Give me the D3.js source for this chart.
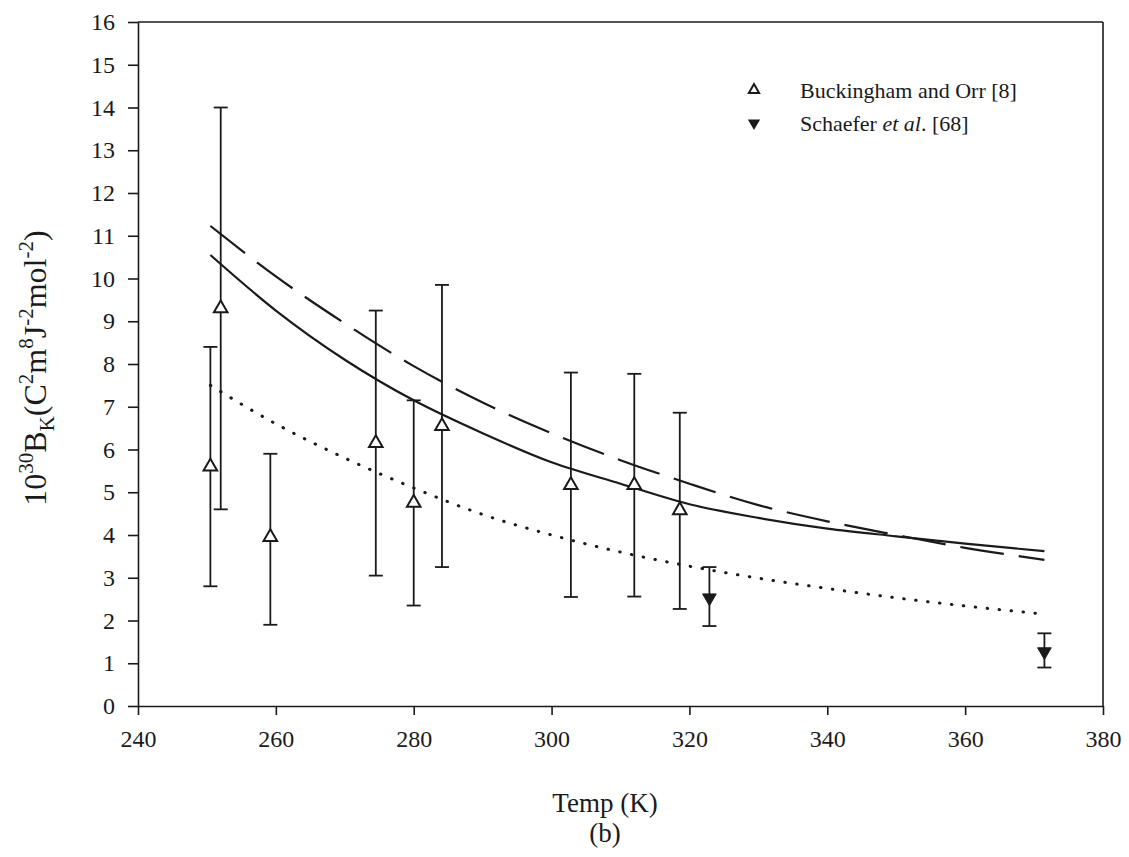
<!DOCTYPE html>
<html><head><meta charset="utf-8">
<script src="https://cdn.jsdelivr.net/npm/d3@7"></script>
<style>body{margin:0;background:#fff} svg text{font-family:"Liberation Serif","Times New Roman",serif}</style>
</head><body>
<svg id="c" width="1129" height="857"></svg>
<script>
// ---- data ----
const xTicks = [240, 260, 280, 300, 320, 340, 360, 380];
const yTicks = [0,1,2,3,4,5,6,7,8,9,10,11,12,13,14,15,16];

// Buckingham and Orr [8] (open triangles)
const boTemp  = [250.5, 252.0, 259.2, 274.5, 280.0, 284.1, 302.8, 312.0, 318.6];
const boValue = [5.6,   9.3,   3.95,  6.15,  4.75,  6.55,  5.17,  5.17,  4.58];
const boLow   = [2.8,   4.6,   1.9,   3.05,  2.35,  3.25,  2.55,  2.56,  2.27];
const boHigh  = [8.4,   14.0,  5.9,   9.25,  7.15,  9.85,  7.8,   7.77,  6.86];

// Schaefer et al. [68] (filled down triangles)
const scTemp  = [322.9, 371.5];
const scValue = [2.53,  1.27];
const scLow   = [1.87,  0.9];
const scHigh  = [3.25,  1.7];

// model curves
const curveTemp   = [250.5, 260, 270, 280, 290, 300, 310, 320, 330, 340, 350, 360, 371.5];
const solidValue  = [10.55, 9.25, 8.1, 7.15, 6.38, 5.7, 5.2, 4.72, 4.4, 4.15, 3.97, 3.8, 3.62];
const dashedValue = [11.23, 10.05, 8.95, 7.95, 7.1, 6.38, 5.75, 5.2, 4.7, 4.32, 4.0, 3.7, 3.42];
const dottedValue = [7.5, 6.6, 5.8, 5.1, 4.48, 4.0, 3.6, 3.27, 2.99, 2.75, 2.53, 2.34, 2.15];

// ---- drawing ----
const svg = d3.select('#c');
svg.append('rect').attr('width',1129).attr('height',857).attr('fill','#fff');
const L = 138, R = 1103, T = 22, B = 706;
const x = d3.scaleLinear().domain([240,380]).range([L,R]);
const y = d3.scaleLinear().domain([0,16]).range([B,T]);
const ink = '#1a1a1a';
const font = '"Liberation Serif","Times New Roman",serif';

const xAxis = svg.append('g').attr('transform',`translate(0,${B})`)
  .call(d3.axisBottom(x).tickValues(xTicks).tickSize(9).tickPadding(15).tickSizeOuter(0).tickFormat(d3.format('d')));
const yAxis = svg.append('g').attr('transform',`translate(${L},0)`)
  .call(d3.axisLeft(y).tickValues(yTicks).tickSize(10).tickPadding(13).tickSizeOuter(0).tickFormat(d3.format('d')));
[xAxis,yAxis].forEach(g=>{
  g.attr('font-family',font).attr('font-size',24);
  g.select('.domain').attr('stroke',ink).attr('stroke-width',1.6);
  g.selectAll('.tick line').attr('stroke',ink).attr('stroke-width',1.6);
  g.selectAll('.tick text').attr('fill',ink).style('font-family',font).style('font-size','24px');
});
// frame top & right
svg.append('line').attr('x1',L).attr('x2',R).attr('y1',T).attr('y2',T).attr('stroke',ink).attr('stroke-width',1.6);
svg.append('line').attr('x1',R).attr('x2',R).attr('y1',T).attr('y2',B).attr('stroke',ink).attr('stroke-width',1.6);

// curves
const line = d3.line().x(d=>x(d[0])).y(d=>y(d[1])).curve(d3.curveMonotoneX);
function drawCurve(vals, dash, w, cap){
  svg.append('path').datum(curveTemp.map((t,i)=>[t,vals[i]]))
    .attr('d',line).attr('fill','none').attr('stroke',ink).attr('stroke-width',w)
    .attr('stroke-dasharray',dash).attr('stroke-linecap',cap);
}
drawCurve(solidValue, null, 2.2, 'butt');
drawCurve(dashedValue, '44,15', 2.2, 'butt');
drawCurve(dottedValue, '0.5,11.5', 3, 'round');

// error bars
function errBars(ts, lo, hi){
  const g = svg.append('g').attr('stroke',ink).attr('stroke-width',1.8);
  ts.forEach((t,i)=>{
    const cx = x(t);
    g.append('line').attr('x1',cx).attr('x2',cx).attr('y1',y(lo[i])).attr('y2',y(hi[i]));
    g.append('line').attr('x1',cx-7).attr('x2',cx+7).attr('y1',y(lo[i])).attr('y2',y(lo[i]));
    g.append('line').attr('x1',cx-7).attr('x2',cx+7).attr('y1',y(hi[i])).attr('y2',y(hi[i]));
  });
}
errBars(boTemp, boLow, boHigh);
errBars(scTemp, scLow, scHigh);

const tri = d3.symbol().type(d3.symbolTriangle).size(80);
svg.append('g').selectAll('path').data(boTemp).join('path')
  .attr('d',tri).attr('transform',(t,i)=>`translate(${x(t)},${y(boValue[i])})`)
  .attr('fill','#fff').attr('stroke',ink).attr('stroke-width',2);
svg.append('g').selectAll('path').data(scTemp).join('path')
  .attr('d',tri).attr('transform',(t,i)=>`translate(${x(t)},${y(scValue[i])}) rotate(180)`)
  .attr('fill',ink).attr('stroke',ink).attr('stroke-width',1);

// legend
const lg = svg.append('g');
lg.append('path').attr('d',d3.symbol().type(d3.symbolTriangle).size(45))
  .attr('transform','translate(754,90)').attr('fill','#fff').attr('stroke',ink).attr('stroke-width',2);
lg.append('path').attr('d',d3.symbol().type(d3.symbolTriangle).size(65))
  .attr('transform','translate(754,123) rotate(180)').attr('fill',ink);
lg.append('text').attr('x',800).attr('y',98).attr('fill',ink)
  .style('font-family',font).style('font-size','22px').text('Buckingham and Orr [8]');
const t2 = lg.append('text').attr('x',800).attr('y',131).attr('fill',ink)
  .style('font-family',font).style('font-size','22px');
t2.append('tspan').text('Schaefer ');
t2.append('tspan').style('font-style','italic').text('et al');
t2.append('tspan').text('. [68]');

// axis titles
svg.append('text').attr('x',605).attr('y',812).attr('text-anchor','middle').attr('fill',ink)
  .style('font-family',font).style('font-size','27px').text('Temp (K)');
svg.append('text').attr('x',605).attr('y',842).attr('text-anchor','middle').attr('fill',ink)
  .style('font-family',font).style('font-size','27px').text('(b)');

const yl = svg.append('text').attr('transform','translate(46,368) rotate(-90)')
  .attr('text-anchor','middle').attr('fill',ink).style('font-family',font).style('font-size','32px');
const parts = [['10',0],['30',1],['B',0],['K',-1],['(C',0],['2',1],['m',0],['8',1],['J',0],['-2',1],['mol',0],['-2',1],[')',0]];
let cur = 0;
parts.forEach(([s,k])=>{
  const target = k===1 ? -13 : (k===-1 ? 8 : 0);
  const ts = yl.append('tspan').attr('dy', target-cur).text(s);
  if(k!==0) ts.style('font-size','21px');
  cur = target;
});
</script>
</body></html>
